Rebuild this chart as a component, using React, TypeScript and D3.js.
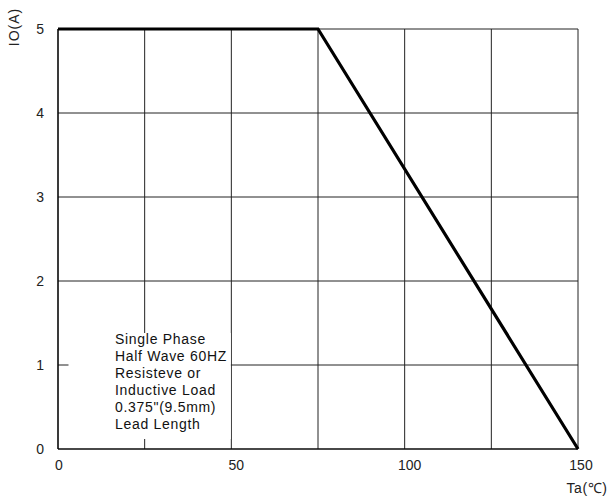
import * as d3 from 'd3';
import React, { useRef, useEffect } from 'react';

const temps = [0, 75, 150];
const current = [5, 5, 0];
const xTicks = [0, 50, 100, 150];
const xGrid = [0, 25, 50, 75, 100, 125, 150];
const yTicks = [0, 1, 2, 3, 4, 5];
const note = ['Single Phase', 'Half Wave 60HZ', 'Resisteve or', 'Inductive Load', '0.375"(9.5mm)', 'Lead Length'];

const W = 613, H = 504;
const margin = { top: 29, right: 35, bottom: 55, left: 58 };
const font = 'Arial, "Liberation Sans", sans-serif';

function DeratingChart() {
  const ref = useRef<SVGSVGElement>(null);

  useEffect(() => {
    const svg = d3.select(ref.current);
    svg.selectAll('*').remove();

    const x = d3.scaleLinear().domain([0, 150]).range([margin.left, W - margin.right]);
    const y = d3.scaleLinear().domain([0, 5]).range([H - margin.bottom, margin.top]);

    // grid
    const g = svg.append('g');
    g.selectAll('line.v').data(xGrid).enter().append('line')
      .attr('x1', d => x(d)).attr('x2', d => x(d))
      .attr('y1', y(0)).attr('y2', y(5))
      .attr('stroke', '#222').attr('stroke-width', 1);
    g.selectAll('line.h').data(yTicks).enter().append('line')
      .attr('x1', x(0)).attr('x2', x(150))
      .attr('y1', d => y(d)).attr('y2', d => y(d))
      .attr('stroke', '#222').attr('stroke-width', 1);

    // note box covers grid behind text
    svg.append('rect')
      .attr('x', x(0) + 10.5).attr('y', y(1) - 32)
      .attr('width', x(50) - x(0) - 11).attr('height', y(0) - y(1) + 22)
      .attr('fill', 'white');

    const nt = svg.append('text')
      .attr('x', 115).attr('y', 344)
      .style('font-family', font).style('font-size', '14px')
      .style('letter-spacing', '0.7px').attr('fill', '#111');
    nt.selectAll('tspan').data(note).enter().append('tspan')
      .attr('x', 115).attr('dy', (d, i) => (i === 0 ? 0 : 17))
      .text(d => d);

    // axes frame
    svg.append('line').attr('x1', x(0)).attr('x2', x(0)).attr('y1', y(0)).attr('y2', y(5))
      .attr('stroke', '#000').attr('stroke-width', 1.2);
    svg.append('line').attr('x1', x(0)).attr('x2', x(150)).attr('y1', y(0)).attr('y2', y(0))
      .attr('stroke', '#000').attr('stroke-width', 1.2);

    // curve
    const line = d3.line<number>().x((d, i) => x(temps[i])).y(d => y(d));
    svg.append('path').datum(current)
      .attr('d', line)
      .attr('fill', 'none').attr('stroke', '#000').attr('stroke-width', 3.2);

    // tick labels
    svg.append('g').selectAll('text').data(yTicks).enter().append('text')
      .attr('x', 44).attr('y', d => y(d) + 5)
      .attr('text-anchor', 'end')
      .style('font-family', font).style('font-size', '14px').attr('fill', '#222')
      .text(d => d);
    svg.append('g').selectAll('text').data(xTicks).enter().append('text')
      .attr('x', d => x(d) + (d === 0 ? 1 : d === 150 ? 3 : 5)).attr('y', 470)
      .attr('text-anchor', 'middle')
      .style('font-family', font).style('font-size', '14px').attr('fill', '#222')
      .text(d => d);

    // axis titles
    svg.append('text')
      .attr('x', 587).attr('y', 493).attr('text-anchor', 'middle')
      .style('font-family', font).style('font-size', '14px').style('letter-spacing', '0.6px')
      .attr('fill', '#222')
      .text('Ta(℃)');
    svg.append('text')
      .attr('transform', 'translate(19,27) rotate(-90)').attr('text-anchor', 'middle')
      .style('font-family', font).style('font-size', '14px').style('letter-spacing', '1px')
      .attr('fill', '#222')
      .text('IO(A)');
  });

  return <svg ref={ref} width={W} height={H} style={{ display: 'block', background: 'white' }} />;
}

export default function App() {
  return (
    <div style={{ position: 'absolute', left: 0, top: 0 }}>
      <DeratingChart />
    </div>
  );
}
